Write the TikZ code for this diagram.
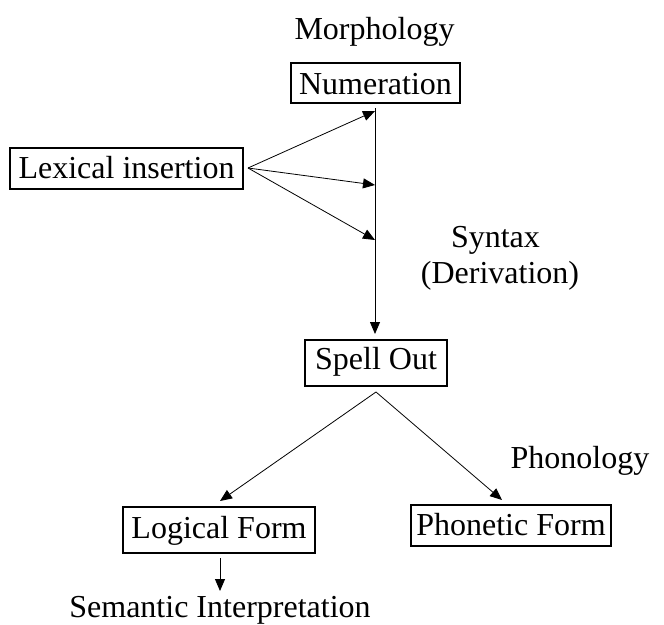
\documentclass[tikz,border=0pt]{standalone}
\usepackage{fontspec}
\setmainfont{Liberation Serif}
\usetikzlibrary{arrows.meta}
\begin{document}
\begin{tikzpicture}[x=1pt,y=-1pt,
  every node/.style={font=\fontsize{32}{36}\selectfont, inner sep=0pt},
  stage/.style={draw, line width=1.8pt, text depth=0pt},
  label/.style={anchor=base},
  flow/.style={line width=0.8pt, -{Triangle[length=12pt,width=10pt]}}]
\useasboundingbox (0,0) rectangle (664,624);
% stages of the derivation
\node[stage, minimum width=169pt, minimum height=40pt, text height=22pt] (num) at (375.5,83) {Numeration};
\node[stage, minimum width=233pt, minimum height=41pt, text height=19pt] (lex) at (126.5,168.5) {Lexical insertion};
\node[stage, minimum width=142pt, minimum height=46pt, text height=12pt] (spell) at (376,363) {Spell Out};
\node[stage, minimum width=192pt, minimum height=46pt, text height=16pt] (lf) at (219,530) {Logical Form};
\node[stage, minimum width=200pt, minimum height=41pt, text height=19pt] (pf) at (511,525.5) {Phonetic Form};
% component labels
\node[label] (morph) at (374.5,39) {Morphology};
\node[label] (syn) at (495.5,247) {Syntax};
\node[label] (der) at (500,283) {(Derivation)};
\node[label] (phon) at (580,468) {Phonology};
\node[label] (sem) at (220,617) {Semantic Interpretation};
% connection points
\coordinate (top) at (375,108);
\coordinate (a1) at (375,111);
\coordinate (a2) at (375,185);
\coordinate (a3) at (375,240);
\coordinate (lexpt) at (248,168);
\coordinate (spelltip) at (375,334);
\coordinate (fork) at (376,392);
\coordinate (lftip) at (220,501);
\coordinate (pftip) at (502,500);
\coordinate (lfb) at (220,558);
\coordinate (semtip) at (220,591);
% main derivation line
\draw[flow] (top) -- (spelltip);
% lexical insertion into the derivation
\draw[flow] (lexpt) -- (a1);
\draw[flow] (lexpt) -- (a2);
\draw[flow] (lexpt) -- (a3);
% branching after Spell Out
\draw[flow] (fork) -- (lftip);
\draw[flow] (fork) -- (pftip);
\draw[flow] (lfb) -- (semtip);
\end{tikzpicture}
\end{document}
